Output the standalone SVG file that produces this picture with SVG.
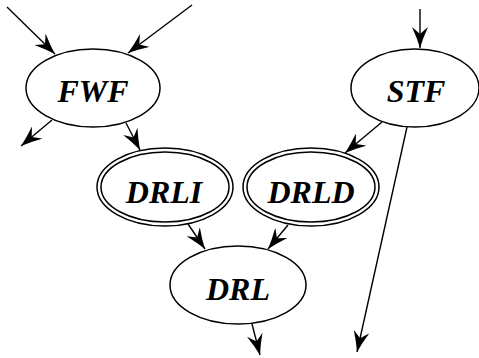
<svg xmlns="http://www.w3.org/2000/svg" width="479" height="358" viewBox="0 0 479 358">
  <style>
    .node ellipse { fill: #fff; stroke: #000; stroke-width: 1.5; }
    .node text { font-family: "Liberation Serif", "Times New Roman", serif; font-size: 32px; font-weight: bold; font-style: italic; text-anchor: middle; fill: #000; }
    .edges line { stroke: #000; stroke-width: 1.4; marker-end: url(#arrow); }
  </style>
  <defs>
    <!-- swept-back arrowhead with slightly concave flanks -->
    <marker id="arrow" markerUnits="userSpaceOnUse" markerWidth="21" markerHeight="16" refX="21" refY="8" orient="auto" viewBox="0 0 21 16">
      <path d="M0,0 Q11,5 21,8 Q11,11 0,16 L7,8 z" fill="#000"/>
    </marker>
  </defs>
  <rect width="479" height="358" fill="#fff"/>

  <g class="edges" id="edges">
    <line x1="7" y1="7" x2="55" y2="54"/>
    <line x1="192" y1="5" x2="128" y2="53"/>
    <line x1="52" y1="120" x2="21" y2="146"/>
    <line x1="126" y1="123" x2="140" y2="150"/>
    <line x1="420" y1="9" x2="420" y2="48"/>
    <line x1="382" y1="122" x2="345" y2="153"/>
    <line x1="407" y1="127" x2="357" y2="352"/>
    <line x1="188" y1="224" x2="205" y2="249"/>
    <line x1="288" y1="225" x2="268" y2="249"/>
    <line x1="252" y1="324" x2="260" y2="355"/>
  </g>

  <g class="node" id="FWF">
    <ellipse cx="93" cy="88" rx="67" ry="39"/>
    <text x="93" y="102">FWF</text>
  </g>
  <g class="node" id="STF">
    <ellipse cx="415" cy="88" rx="64" ry="39"/>
    <text x="416" y="102">STF</text>
  </g>
  <g class="node" id="DRLI">
    <ellipse cx="165" cy="187" rx="68" ry="39"/>
    <ellipse cx="165" cy="187" rx="64" ry="35"/>
    <text x="164" y="203">DRLI</text>
  </g>
  <g class="node" id="DRLD">
    <ellipse cx="311" cy="187" rx="68" ry="39"/>
    <ellipse cx="311" cy="187" rx="64" ry="35"/>
    <text x="311" y="203">DRLD</text>
  </g>
  <g class="node" id="DRL">
    <ellipse cx="238" cy="285" rx="68" ry="39"/>
    <text x="238" y="300">DRL</text>
  </g>
</svg>
